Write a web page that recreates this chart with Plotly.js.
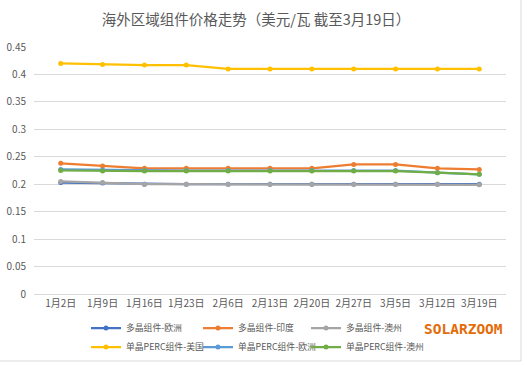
<!DOCTYPE html>
<html><head><meta charset="utf-8">
<script src="https://cdn.plot.ly/plotly-3.0.1.min.js"></script>
<style>html,body{margin:0;padding:0;background:#fff}#c{width:529px;height:365px}</style>
</head><body><div id="c"></div>
<script>
const categories = ["1月2日","1月9日","1月16日","1月23日","2月6日","2月13日","2月20日","2月27日","3月5日","3月12日","3月19日"];
const polyEU   = [0.203,0.202,0.200,0.200,0.200,0.200,0.200,0.200,0.200,0.200,0.200];
const polyIN   = [0.238,0.233,0.229,0.229,0.229,0.229,0.229,0.236,0.236,0.229,0.227];
const polyAU   = [0.205,0.203,0.200,0.200,0.200,0.200,0.200,0.200,0.200,0.200,0.199];
const percUS   = [0.420,0.418,0.417,0.417,0.410,0.410,0.410,0.410,0.410,0.410,0.410];
const percEU   = [0.227,0.226,0.225,0.225,0.225,0.225,0.225,0.225,0.225,0.221,0.218];
const percAU   = [0.225,0.224,0.224,0.224,0.224,0.224,0.224,0.224,0.224,0.221,0.218];
const names = ["多晶组件-欧洲","多晶组件-印度","多晶组件-澳州","单晶PERC组件-美国","单晶PERC组件-欧洲","单晶PERC组件-澳州"];
const colors = ["#4472C4","#ED7D31","#A5A5A5","#FFC000","#5B9BD5","#70AD47"];
const series = [polyEU, polyIN, polyAU, percUS, percEU, percAU];
const yTicks = [0,0.05,0.1,0.15,0.2,0.25,0.3,0.35,0.4,0.45];

const legendIds = ['legend','legend2','legend3','legend4','legend5','legend6'];
const traces = series.map((s,i)=>({
  type:'scatter', mode:'lines+markers', x:categories, y:s, name:names[i],
  line:{color:colors[i], width:2.25}, marker:{color:colors[i], size:5},
  legend: legendIds[i]
}));

const legendBase = {orientation:'h', xref:'container', yref:'container', xanchor:'left', yanchor:'middle',
  font:{family:'Noto Sans CJK SC, sans-serif', size:8.8, color:'#595959'}, bgcolor:'rgba(0,0,0,0)',
  itemwidth:30, itemclick:false};
const colX = [86, 198, 306];
const rowY = [328, 347];

const layout = {
  width:529, height:365,
  paper_bgcolor:'#fff', plot_bgcolor:'#fff',
  margin:{l:34, r:23, t:47, b:71},
  title:{text:'海外区域组件价格走势（美元/瓦 截至3月19日）', x:256/529, xref:'container', xanchor:'center', y:1-20/365, yref:'container', yanchor:'middle',
    font:{family:'Noto Sans CJK SC, sans-serif', size:14.5, color:'#595959'}},
  xaxis:{type:'category', showgrid:false, showline:true, linecolor:'#D9D9D9', linewidth:1, ticks:'',
    tickfont:{family:'Noto Sans CJK SC, sans-serif', size:10, color:'#595959'}, fixedrange:true},
  yaxis:{range:[0,0.45], tickvals:yTicks, ticktext:yTicks.map(String), showgrid:true, gridcolor:'#D9D9D9', gridwidth:1,
    zeroline:false, showline:false, ticks:'', ticklabelstandoff:7,
    tickfont:{family:'Noto Sans CJK SC, sans-serif', size:10, color:'#595959'}, fixedrange:true},
  showlegend:true,
  annotations:[{text:'<b>SOLARZOOM</b>', xref:'paper', yref:'paper', x:(463-34)/472, y:(294-329)/247, xanchor:'center', yanchor:'middle', showarrow:false,
    font:{family:'DejaVu Sans Mono, monospace', size:14.5, color:'#E36C09'}}],
  shapes:[
    {type:'line', xref:'paper', yref:'paper', x0:(521-34)/472, x1:(521-34)/472, y0:(47+294)/247, y1:-(361-294)/247, line:{color:'#D9D9D9', width:1}},
    {type:'line', xref:'paper', yref:'paper', x0:-34/472, x1:(521-34)/472, y0:-(361-294)/247, y1:-(361-294)/247, line:{color:'#D9D9D9', width:1}}
  ]
};
legendIds.forEach((id,i)=>{
  layout[id] = Object.assign({}, legendBase, {x:colX[i%3]/529, y:1-rowY[Math.floor(i/3)]/365});
});
Plotly.newPlot('c', traces, layout, {displayModeBar:false, staticPlot:true});
</script></body></html>
